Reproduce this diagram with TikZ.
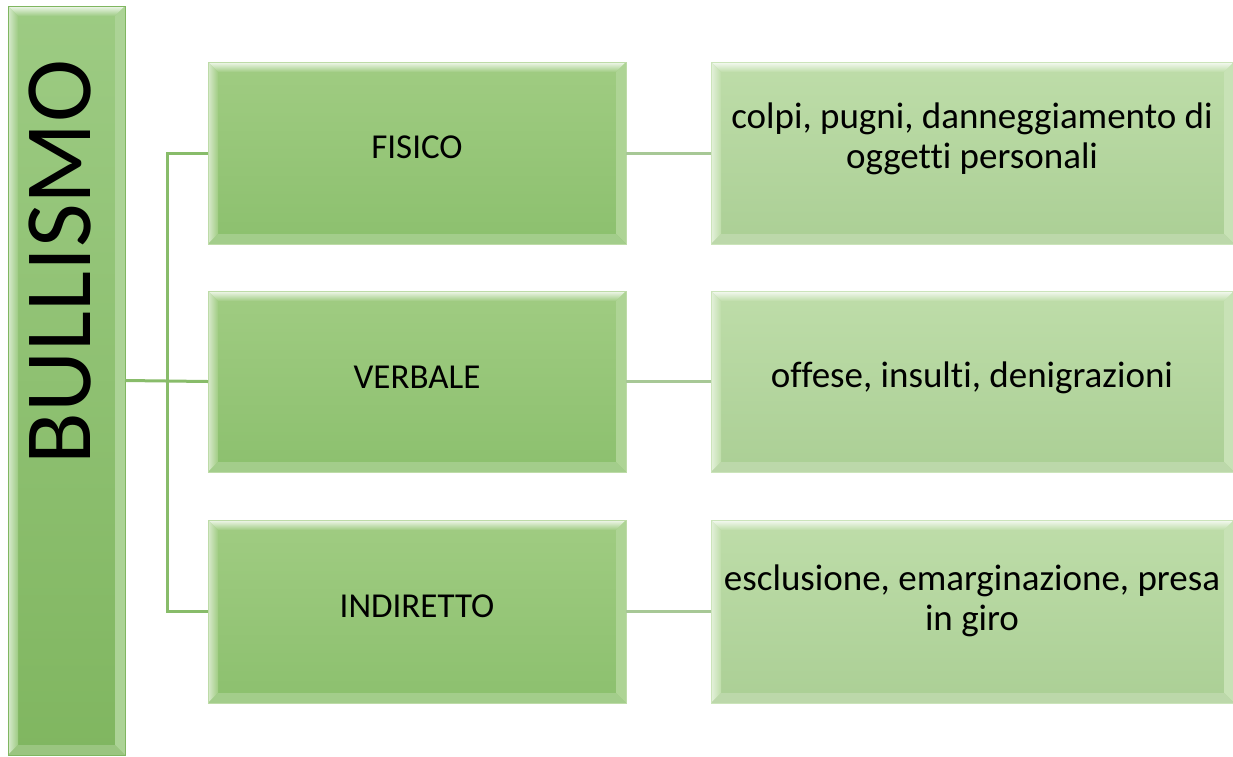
\documentclass[tikz,border=0pt]{standalone}
\usepackage{fontspec}
\setmainfont{Carlito}[Ligatures={NoCommon,NoContextual}]
\usetikzlibrary{calc}
\definecolor{lefttop}{HTML}{9DCB83}
\definecolor{leftbot}{HTML}{80B660}
\definecolor{midtop}{HTML}{A0CC82}
\definecolor{midbot}{HTML}{8CC06E}
\definecolor{righttop}{HTML}{BEDDA9}
\definecolor{rightbot}{HTML}{ABCF95}
\definecolor{connA}{HTML}{88BC6A}
\definecolor{connB}{HTML}{A7C896}
\tikzset{
  bevbox/.style 2 args={rectangle, inner sep=0pt, outer sep=0pt,
    path picture={
      \coordinate (bbnw) at (path picture bounding box.north west);
      \coordinate (bbne) at (path picture bounding box.north east);
      \coordinate (bbsw) at (path picture bounding box.south west);
      \coordinate (bbse) at (path picture bounding box.south east);
      \shade[top color=#1, bottom color=#2] (bbsw) rectangle (bbne);
      \shade[top color=white!85!#1, bottom color=#1]
        (bbnw) -- (bbne) -- ($(bbne)+(-10pt,-10pt)$) -- ($(bbnw)+(10pt,-10pt)$) -- cycle;
      \shade[left color=white!60!#1, right color=#1]
        (bbnw) -- ($(bbnw)+(10pt,-10pt)$) -- ($(bbsw)+(10pt,10pt)$) -- (bbsw) -- cycle;
      \fill[#1!85!white]
        (bbne) -- ($(bbne)+(-10pt,-10pt)$) -- ($(bbse)+(-10pt,10pt)$) -- (bbse) -- cycle;
      \fill[#2!80!white]
        (bbsw) -- ($(bbsw)+(10pt,10pt)$) -- ($(bbse)+(-10pt,10pt)$) -- (bbse) -- cycle;
    }},
  leftbox/.style={bevbox={lefttop}{leftbot}, draw=leftbot, line width=0.8pt},
  midbox/.style={bevbox={midtop}{midbot}, draw=midtop!70!white, line width=0.8pt,
    minimum width=418pt},
  rightbox/.style={bevbox={righttop}{rightbot}, draw=righttop!80!white, line width=0.8pt,
    minimum width=523pt},
  midtext/.style={font=\fontsize{35}{40}\selectfont, inner sep=0pt},
  righttext/.style={font=\fontsize{37}{40}\selectfont, align=center, inner sep=0pt},
  connA/.style={draw=connA, line width=3pt},
  connB/.style={draw=connB, line width=3pt},
}
\begin{document}
\begin{tikzpicture}[x=1pt,y=-1pt]
\useasboundingbox (0,0) rectangle (1233,756);
% main boxes
\node[leftbox, minimum width=117pt, minimum height=749pt] (bul) at (66.5,380.5) {};
\node[midbox, minimum height=182pt] (fis) at (417,153) {};
\node[midbox, minimum height=181pt] (ver) at (417,381.5) {};
\node[midbox, minimum height=183pt] (ind) at (417,611.5) {};
\node[rightbox, minimum height=182pt] (fisd) at (972.5,153) {};
\node[rightbox, minimum height=181pt] (verd) at (972.5,381.5) {};
\node[rightbox, minimum height=183pt] (indd) at (972.5,611.5) {};
% texts
\node[rotate=90, font=\fontsize{95}{100}\selectfont, inner sep=0pt] (bult) at (60,262) {BULLISMO};
\node[midtext] (fist) at (417,147) {FISICO};
\node[midtext] (vert) at (417,377) {VERBALE};
\node[midtext] (indt) at (417,606) {INDIRETTO};
\node[righttext] (fisdt) at (972,139) {colpi, pugni, danneggiamento di\\oggetti personali};
\node[righttext] (verdt) at (972,378) {offese, insulti, denigrazioni};
\node[righttext] (inddt) at (972,601) {esclusione, emarginazione, presa\\in giro};
% connectors
\coordinate (bus) at (167,0);
\draw[connA] (bul.east) -- (ver.west);
\draw[connA] (fis.west) -- (fis.west -| bus) -- (ind.west -| bus) -- (ind.west);
\draw[connB] (fis.east) -- (fisd.west);
\draw[connB] (ver.east) -- (verd.west);
\draw[connB] (ind.east) -- (indd.west);
\end{tikzpicture}
\end{document}
